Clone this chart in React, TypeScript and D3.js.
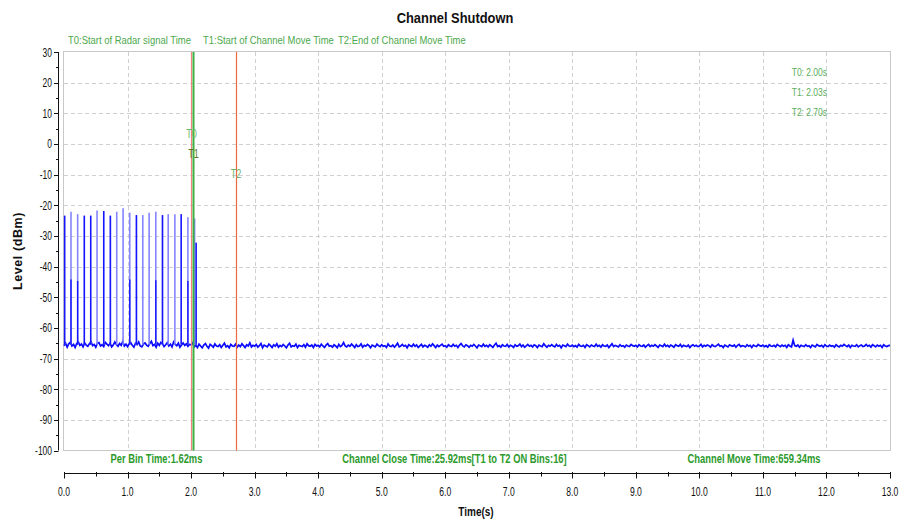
import React from "react";
import * as d3 from "d3";

const W = 900;
const H = 523;

// x ticks (seconds) and y ticks (dBm)
const xMajorTicks = [0, 1, 2, 3, 4, 5, 6, 7, 8, 9, 10, 11, 12, 13];
const yMajorTicks = [30, 20, 10, 0, -10, -20, -30, -40, -50, -60, -70, -80, -90, -100];

// Markers
const markerNames = ["T0", "T1", "T2"];
const markerTimes = [2.0, 2.03, 2.7];
const markerColors = ["#f2827c", "#3cb043", "#ec6a3e"];
const markerLabelLevels = [2.0, -4.5, -11];
const headerTexts = [
  "T0:Start of Radar signal Time",
  "T1:Start of Channel Move Time",
  "T2:End of Channel Move Time",
];
const headerX = [68, 203, 338];
const infoTexts = ["T0: 2.00s", "T1: 2.03s", "T2: 2.70s"];
const footerTexts = [
  "Per Bin Time:1.62ms",
  "Channel Close Time:25.92ms[T1 to T2 ON Bins:16]",
  "Channel Move Time:659.34ms",
];
const footerCenters = [1.455, 6.146, 10.86];

// Radar pulses (time s, peak dBm, level reached by the darker part dBm)
const pulseTimes = [0.01, 0.11, 0.215, 0.32, 0.42, 0.52, 0.625, 0.73, 0.83, 0.93, 1.035, 1.14, 1.24, 1.34, 1.445, 1.55, 1.64, 1.745, 1.845, 1.95, 2.055, 2.08];
const pulsePeaks = [-23.4, -22.1, -22.9, -23.4, -23.4, -21.7, -21.9, -23.4, -22.1, -21.0, -22.4, -23.2, -23.2, -22.4, -22.1, -23.2, -22.9, -22.9, -22.9, -23.9, -24.3, -32.2];
const pulseDark = [-23.4, -44.2, -44.7, -23.4, -23.4, -65.5, -21.9, -23.4, -65.5, -65.5, -44.2, -23.2, -65.5, -65.5, -44.5, -23.2, -65.5, -65.5, -22.9, -44.7, -65.5, -32.2];

// Noise floor, one value every 0.025 s from 0 to 13 s
const noiseStep = 0.025;
const noiseLevels = [
  -65.8,-65.0,-66.3,-65.2,-64.7,-65.9,-65.4,-66.4,-65.1,-64.6,-65.7,-65.3,-66.2,-64.9,-65.6,-66.0,-65.2,-64.5,-65.8,-65.4,-66.3,-65.0,-64.8,-65.9,-65.5,-66.1,-64.7,-65.3,-65.8,-65.0,-66.2,-65.6,-64.6,-65.4,-66.0,-65.1,-65.7,-64.4,-65.9,-65.3,
  -66.1,-65.2,-64.8,-65.7,-66.3,-65.0,-65.5,-64.6,-65.9,-66.2,-65.3,-64.9,-65.6,-66.0,-65.1,-64.4,-65.8,-65.4,-66.3,-65.0,-65.7,-64.7,-65.2,-66.1,-65.5,-64.8,-65.9,-65.3,-66.2,-64.6,-65.4,-65.8,-65.0,-66.3,-65.6,-64.9,-65.7,-65.2,-66.0,-65.4,
  -65.5,-64.9,-66.2,-65.7,-66.4,-65.3,-65.9,-66.5,-65.6,-65.1,-66.0,-66.6,-65.4,-65.8,-66.3,-65.2,-65.9,-66.1,-65.5,-66.4,-65.7,-65.0,-66.2,-65.8,-66.5,-65.4,-65.9,-66.0,-65.3,-66.3,-65.6,-66.1,-65.2,-65.8,-66.4,-65.5,-65.9,-64.9,-66.2,-65.7,
  -66.0,-65.4,-66.3,-65.8,-65.1,-66.5,-65.6,-65.9,-66.2,-65.3,-65.8,-66.4,-65.5,-66.0,-65.2,-66.3,-65.7,-66.1,-65.4,-65.9,-66.5,-65.6,-65.0,-66.2,-65.8,-66.0,-65.3,-66.4,-65.7,-65.9,-66.1,-65.5,-66.3,-65.2,-65.8,-66.0,-65.6,-66.4,-65.4,-65.9,
  -65.7,-66.2,-65.3,-65.9,-66.4,-65.6,-65.1,-66.0,-65.8,-66.3,-65.5,-65.9,-66.5,-65.4,-66.1,-65.7,-64.8,-65.9,-66.2,-65.6,-66.0,-65.3,-65.8,-66.4,-65.5,-66.1,-65.9,-65.2,-66.3,-65.7,-66.0,-65.4,-65.8,-66.5,-65.6,-65.9,-66.2,-65.3,-65.8,-66.1,
  -65.5,-66.0,-65.8,-66.4,-65.2,-65.9,-66.1,-65.6,-66.3,-65.7,-65.0,-66.2,-65.9,-65.4,-66.0,-65.7,-66.5,-65.5,-65.8,-66.1,-65.3,-66.0,-65.6,-66.4,-65.9,-65.4,-66.2,-65.7,-65.9,-66.3,-65.5,-66.0,-65.2,-65.8,-66.4,-65.6,-66.1,-65.7,-65.3,-66.0,
  -65.8,-66.3,-65.5,-65.9,-66.1,-65.4,-66.0,-65.7,-66.4,-65.6,-65.1,-65.9,-66.2,-65.5,-65.8,-66.3,-65.7,-66.0,-65.4,-65.9,-66.5,-65.6,-65.8,-66.1,-65.3,-66.0,-65.7,-66.2,-65.5,-65.9,-66.4,-65.6,-65.0,-66.1,-65.8,-66.3,-65.5,-65.9,-66.0,-65.4,
  -66.2,-65.7,-65.9,-66.4,-65.5,-66.0,-65.8,-65.3,-66.1,-65.6,-66.3,-65.9,-65.4,-66.0,-65.7,-66.2,-65.5,-65.8,-66.4,-65.6,-65.9,-66.1,-65.2,-65.8,-66.3,-65.7,-66.0,-65.5,-65.9,-66.2,-65.4,-66.0,-65.7,-66.5,-65.6,-65.8,-66.1,-65.3,-65.9,-66.0,
  -65.6,-66.1,-65.8,-66.3,-65.4,-65.9,-66.0,-65.7,-66.4,-65.5,-65.8,-66.2,-65.6,-65.9,-66.1,-65.3,-66.0,-65.7,-66.3,-65.5,-65.9,-66.0,-65.6,-66.4,-65.8,-65.2,-66.1,-65.7,-65.9,-66.2,-65.5,-66.0,-65.8,-66.3,-65.6,-65.9,-66.1,-65.4,-65.8,-66.0,
  -65.7,-66.2,-65.5,-65.9,-66.0,-65.6,-66.3,-65.8,-65.4,-66.1,-65.7,-66.0,-65.5,-65.9,-66.4,-65.6,-65.8,-66.1,-65.3,-66.0,-65.7,-66.2,-65.6,-65.9,-66.3,-65.5,-65.8,-66.0,-65.4,-66.2,-65.7,-65.9,-66.1,-65.6,-66.4,-65.8,-65.5,-66.0,-65.7,-66.1,
  -65.9,-65.4,-66.2,-65.7,-66.0,-65.6,-65.8,-66.3,-65.5,-65.9,-66.1,-65.7,-65.3,-66.0,-65.8,-66.4,-65.6,-65.9,-66.2,-65.5,-65.8,-66.0,-65.6,-66.3,-65.7,-65.4,-66.1,-65.8,-65.9,-66.2,-65.5,-66.0,-65.7,-66.4,-65.6,-65.9,-66.1,-65.4,-65.8,-66.0,
  -65.6,-66.1,-65.8,-66.3,-65.5,-65.9,-66.0,-65.7,-66.2,-65.4,-65.8,-66.1,-65.6,-66.0,-65.7,-66.4,-65.5,-65.9,-66.2,-64.0,-65.8,-66.0,-65.6,-66.3,-65.7,-65.9,-66.1,-65.5,-66.0,-65.8,-66.4,-65.6,-65.9,-66.2,-65.4,-65.8,-66.0,-65.7,-66.3,-65.5,
  -65.9,-66.1,-65.6,-66.0,-65.8,-66.3,-65.5,-65.9,-66.2,-65.7,-66.0,-65.4,-65.8,-66.1,-65.6,-66.4,-65.7,-65.9,-66.0,-65.5,-66.2,-65.8,-65.6,-66.1,-65.9,-65.4,-66.0,-65.7,-66.3,-65.5,-65.8,-66.2,-65.6,-66.0,-65.7,-66.4,-65.5,-65.9,-66.1,-65.8,
  -65.7,
];

const sans = "'Liberation Sans', Arial, sans-serif";
const green = "#4ca84c";
const darkGreen = "#2c9a2c";

type NProps = {
  x: number;
  y: number;
  k: number;
  anchor?: "start" | "middle" | "end";
  size: number;
  bold?: boolean;
  fill: string;
  children: React.ReactNode;
};

// Horizontally condensed text (the reference uses a narrow font)
function NText({ x, y, k, anchor = "start", size, bold, fill, children }: NProps) {
  return (
    <text
      transform={`translate(${x},${y}) scale(${k},1)`}
      textAnchor={anchor}
      fontFamily={sans}
      fontSize={size}
      fontWeight={bold ? "bold" : "normal"}
      fill={fill}
    >
      {children}
    </text>
  );
}

export default function App() {
  const left = 64;
  const right = 890;
  const top = 52;
  const bottom = 450.5;
  const x = d3.scaleLinear().domain([0, 13]).range([left, right]);
  const y = d3.scaleLinear().domain([-100, 30]).range([bottom, top]);

  const noisePts: [number, number][] = noiseLevels.map((v, i) => [i * noiseStep, v]);
  const line = d3
    .line<[number, number]>()
    .x((d) => x(d[0]))
    .y((d) => y(d[1]));

  const xMinor = d3.range(0.5, 13, 1);
  const yMinor = d3.range(-95, 30, 10);
  const xGrid = xMajorTicks.filter((t) => t > 0 && t < 13);
  const yGrid = yMajorTicks.filter((t) => t > -100 && t < 30);
  const axisY = 473.5;
  const axisX = 58.5;
  const baseLevel = -65.5;
  const cx = (t: number) => Math.round(x(t)) + 0.5;

  return (
    <svg width={W} height={H} style={{ position: "absolute", left: 0, top: 0, background: "#fff" }}>
      <rect x={0} y={0} width={W} height={H} fill="#fff" />
      {/* Title */}
      <NText x={455} y={23} k={0.86} anchor="middle" size={15} bold fill="#111">
        Channel Shutdown
      </NText>
      {/* Header annotations */}
      {headerTexts.map((t, i) => (
        <NText key={t} x={headerX[i]} y={44} k={0.86} size={11} fill={green}>
          {t}
        </NText>
      ))}
      {/* grid */}
      {xGrid.map((t) => (
        <line key={"gx" + t} x1={cx(t)} x2={cx(t)} y1={top} y2={bottom} stroke="#d0d0d0" strokeDasharray="4,3" />
      ))}
      {yGrid.map((t) => (
        <line key={"gy" + t} x1={left} x2={right} y1={Math.round(y(t)) + 0.5} y2={Math.round(y(t)) + 0.5} stroke="#d0d0d0" strokeDasharray="4,3" />
      ))}
      {/* frame */}
      <rect x={left - 0.5} y={top - 0.5} width={right - left + 1} height={bottom - top + 0.5} fill="none" stroke="#c8c8c8" />

      {/* noise trace */}
      <path d={line(noisePts) || ""} fill="none" stroke="#0a0aff" strokeWidth={1.7} strokeLinejoin="miter" />
      {/* pulses */}
      {pulseTimes.map((t, i) => (
        <line key={"pl" + i} x1={x(t)} x2={x(t)} y1={y(baseLevel)} y2={y(pulsePeaks[i])} stroke="#8484ff" strokeWidth={1.6} />
      ))}
      {pulseTimes.map((t, i) => (
        <line key={"pd" + i} x1={x(t)} x2={x(t)} y1={y(baseLevel)} y2={y(pulseDark[i])} stroke="#1515ff" strokeWidth={1.4} />
      ))}

      {/* marker lines */}
      {markerTimes.map((t, i) => (
        <line key={"m" + i} x1={cx(t)} x2={cx(t)} y1={top} y2={bottom} stroke={markerColors[i]} strokeWidth={i === 1 ? 2 : 1.2} />
      ))}
      {markerNames.map((n, i) => (
        <NText key={"mn" + n} x={x(markerTimes[i]) + 0.5} y={y(markerLabelLevels[i])} k={0.7} anchor="middle" size={13} fill={i === 1 ? "#5a7a2a" : "#6cb86c"}>
          {n}
        </NText>
      ))}
      {/* info texts */}
      {infoTexts.map((t, i) => (
        <NText key={t} x={827} y={76 + i * 20} k={0.77} anchor="end" size={11} fill="#5aae5a">
          {t}
        </NText>
      ))}
      {/* footer texts */}
      {footerTexts.map((t, i) => (
        <NText key={t} x={x(footerCenters[i])} y={463} k={0.78} anchor="middle" size={12} bold fill={darkGreen}>
          {t}
        </NText>
      ))}

      {/* x axis */}
      <line x1={left} x2={right + 0.5} y1={axisY} y2={axisY} stroke="#111" />
      {xMajorTicks.map((t) => (
        <g key={"xt" + t}>
          <line x1={cx(t)} x2={cx(t)} y1={axisY - 1.5} y2={axisY + 5} stroke="#111" />
          <NText x={x(t)} y={496} k={0.66} anchor="middle" size={13} fill="#111">
            {t.toFixed(1)}
          </NText>
        </g>
      ))}
      {xMinor.map((t) => (
        <line key={"xm" + t} x1={cx(t)} x2={cx(t)} y1={axisY - 1.5} y2={axisY + 3} stroke="#111" />
      ))}
      <NText x={476} y={516} k={0.77} anchor="middle" size={13} bold fill="#111">
        Time(s)
      </NText>

      {/* y axis */}
      <line x1={axisX} x2={axisX} y1={top} y2={bottom} stroke="#111" />
      {yMajorTicks.map((t) => (
        <g key={"yt" + t}>
          <line x1={axisX - 4.5} x2={axisX} y1={Math.round(y(t)) + 0.5} y2={Math.round(y(t)) + 0.5} stroke="#111" />
          <NText x={52} y={y(t) + 4.5} k={0.65} anchor="end" size={13} fill="#111">
            {t}
          </NText>
        </g>
      ))}
      {yMinor.map((t) => (
        <line key={"ym" + t} x1={axisX - 2.5} x2={axisX} y1={Math.round(y(t)) + 0.5} y2={Math.round(y(t)) + 0.5} stroke="#111" />
      ))}
      <text
        transform={`translate(22, ${251}) rotate(-90)`}
        textAnchor="middle"
        fontFamily={sans}
        fontWeight="bold"
        fontSize={12.5}
        letterSpacing={0.6}
        fill="#111"
      >
        Level (dBm)
      </text>
    </svg>
  );
}
